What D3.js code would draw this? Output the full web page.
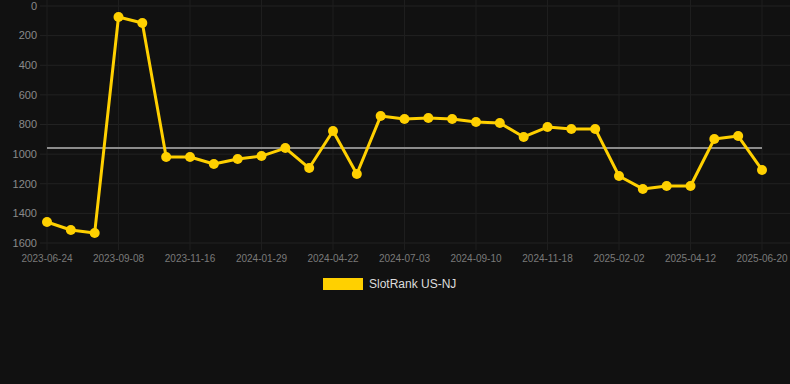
<!DOCTYPE html>
<html lang="en">
<head>
<meta charset="UTF-8">
<title>SlotRank US-NJ</title>
<script src="https://cdn.jsdelivr.net/npm/d3@7/dist/d3.min.js"></script>
<style>
  html, body { margin: 0; padding: 0; background: #111111; }
  svg { display: block; font-family: "Liberation Sans", Arial, sans-serif; }
</style>
</head>
<body>
<svg width="790" height="384"></svg>
<script>
    // ranks per sample, in order (category axis, evenly spaced)
    let ranks = [1458, 1512, 1532, 74, 115, 1019, 1019, 1067, 1033, 1013, 959,
                 1094, 844, 1134, 743, 763, 756, 763, 783, 790, 884, 817,
                 830, 830, 1148, 1235, 1215, 1215, 898, 878, 1107]
    // labels shown under every third sample
    let tickLabels = ["2023-06-24", "2023-09-08", "2023-11-16", "2024-01-29", "2024-04-22",
                      "2024-07-03", "2024-09-10", "2024-11-18", "2025-02-02", "2025-04-12",
                      "2025-06-20"]
    let yTicks = [0, 200, 400, 600, 800, 1000, 1200, 1400, 1600]
    let avgRank = 958
    let seriesName = "SlotRank US-NJ"

    let svg = d3.select('svg')
    let gold = "#ffd000"

    let idx = d3.range(ranks.length)
    let scaleX = d3.scalePoint().domain(idx).range([47, 762])
    let scaleY = d3.scaleLinear().domain([0, 1600]).range([6, 243])

    // horizontal grid
    svg.append("g").selectAll("line").data(yTicks).join("line")
        .attr("x1", 40).attr("x2", 790)
        .attr("y1", d => scaleY(d)).attr("y2", d => scaleY(d))
        .attr("stroke", "#222222").attr("stroke-width", 1)

    // vertical grid at labelled samples
    let tickIdx = tickLabels.map((t, i) => i * 3)
    svg.append("g").selectAll("line").data(tickIdx).join("line")
        .attr("x1", d => scaleX(d)).attr("x2", d => scaleX(d))
        .attr("y1", 0).attr("y2", 250)
        .attr("stroke", "#1e1e1e").attr("stroke-width", 1)

    // y labels
    svg.append("g").selectAll("text").data(yTicks).join("text")
        .attr("x", 37).attr("y", d => scaleY(d))
        .attr("dy", "0.35em")
        .attr("text-anchor", "end")
        .attr("fill", "#8a8a8a")
        .style("font-size", "11px")
        .text(d => d)

    // x labels
    svg.append("g").selectAll("text").data(tickIdx).join("text")
        .attr("x", d => scaleX(d)).attr("y", 262)
        .attr("text-anchor", "middle")
        .attr("fill", "#7a7a7a")
        .style("font-size", "10px")
        .text((d, i) => tickLabels[i])

    // average line
    svg.append("line")
        .attr("x1", scaleX(0)).attr("x2", scaleX(ranks.length - 1))
        .attr("y1", scaleY(avgRank)).attr("y2", scaleY(avgRank))
        .attr("stroke", "#8c8c8c").attr("stroke-width", 2)

    let line = d3.line()
        .x((d, i) => scaleX(i))
        .y(d => scaleY(d))

    svg.append("path")
        .datum(ranks)
        .attr("d", line)
        .style("fill", "none")
        .style("stroke", gold)
        .style("stroke-width", "3px")
        .style("stroke-linejoin", "round")

    svg.append("g").selectAll("circle").data(ranks).join("circle")
        .attr("cx", (d, i) => scaleX(i))
        .attr("cy", d => scaleY(d))
        .attr("r", 5)
        .attr("fill", gold)

    // legend
    svg.append("rect")
        .attr("x", 323).attr("y", 278).attr("width", 40).attr("height", 12)
        .attr("fill", gold)
    svg.append("text")
        .attr("x", 369).attr("y", 284).attr("dy", "0.35em")
        .attr("fill", "#dddddd")
        .style("font-size", "12px")
        .text(seriesName)
</script>
</body>
</html>
